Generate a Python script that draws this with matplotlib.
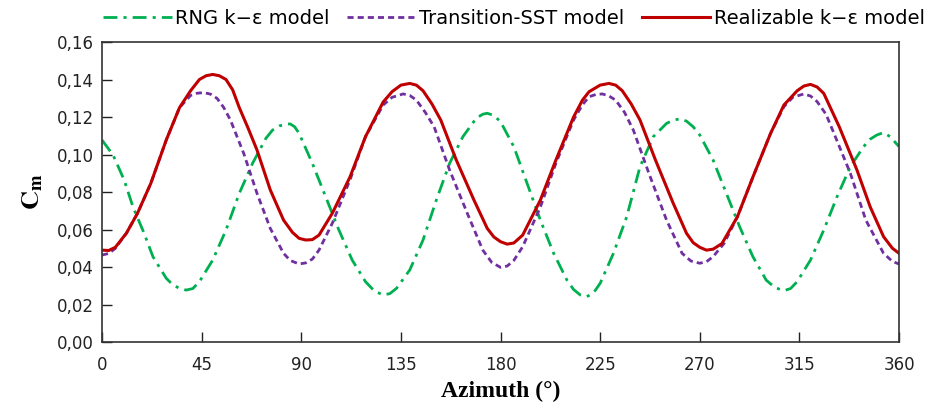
import numpy as np
import matplotlib
matplotlib.use("Agg")
import matplotlib.pyplot as plt

# moment coefficient over one revolution, (azimuth deg, Cm) for each model
rng_points = [(0, 0.1077), (5, 0.0997), (10, 0.0864), (14, 0.072), (19, 0.058), (23, 0.0455),
              (29, 0.034), (32, 0.0305), (35, 0.0286), (38, 0.0277), (41, 0.0285), (44, 0.0322),
              (50, 0.0437), (56, 0.0597), (62, 0.0793), (68, 0.0953), (74, 0.1086), (77, 0.1130),
              (80, 0.1152), (83, 0.1162), (85, 0.1163), (87, 0.1148), (89, 0.1113), (95, 0.0953),
              (101, 0.0775), (107, 0.0597), (113, 0.0437), (119, 0.0322), (123, 0.0272), (127, 0.0251),
              (130, 0.0258), (133, 0.0286), (139, 0.0384), (145, 0.0544), (151, 0.0757), (157, 0.0953),
              (163, 0.1095), (169, 0.1193), (172, 0.1215), (174, 0.122), (177, 0.1208), (180, 0.1175),
              (186, 0.1042), (192, 0.0846), (198, 0.065), (204, 0.0473), (210, 0.033), (213, 0.028),
              (216, 0.0251), (219, 0.0242), (222, 0.0262), (225, 0.0313), (231, 0.0473), (237, 0.0668),
              (243, 0.0935), (249, 0.1095), (255, 0.1166), (258, 0.1183), (261, 0.119), (264, 0.1178),
              (267, 0.1148), (270, 0.1104), (276, 0.0971), (282, 0.0793), (288, 0.0615), (294, 0.0455),
              (300, 0.033), (304, 0.029), (308, 0.0274), (311, 0.0285), (314, 0.0322), (320, 0.0437),
              (326, 0.0597), (332, 0.0775), (338, 0.0935), (344, 0.1042), (347, 0.1082), (350, 0.1104),
              (353, 0.1117), (356, 0.1095), (360, 0.1042)]

sst_points = [(0, 0.0464), (3, 0.0472), (6, 0.0499), (11, 0.058), (16, 0.0686), (22, 0.0845),
              (29, 0.1077), (35, 0.125), (40, 0.1315), (43, 0.1327), (46, 0.133), (49, 0.1322),
              (52, 0.1299), (55, 0.125), (58, 0.1184), (64, 0.1006), (70, 0.0793), (76, 0.0606),
              (82, 0.0473), (85, 0.0435), (89, 0.0416), (92, 0.0422), (95, 0.0442), (98, 0.049),
              (104, 0.0633), (112, 0.0864), (119, 0.1095), (127, 0.1264), (131, 0.1305), (136, 0.1323),
              (139, 0.1315), (142, 0.129), (146, 0.1225), (150, 0.1148), (157, 0.0917), (165, 0.0686),
              (172, 0.049), (176, 0.0425), (180, 0.0398), (183, 0.0405), (186, 0.0435), (190, 0.0508),
              (198, 0.072), (205, 0.0953), (213, 0.1184), (217, 0.1265), (220, 0.1308), (223, 0.1320),
              (226, 0.1323), (229, 0.1312), (232, 0.129), (236, 0.1225), (240, 0.113), (247, 0.090),
              (255, 0.065), (262, 0.0473), (266, 0.0432), (270, 0.042), (273, 0.0428), (276, 0.0455),
              (281, 0.0526), (287, 0.0668), (294, 0.088), (302, 0.1113), (308, 0.1255), (312, 0.1305),
              (317, 0.1323), (320, 0.1312), (323, 0.1282), (327, 0.1215), (330, 0.113), (338, 0.090),
              (345, 0.065), (353, 0.0473), (357, 0.043), (360, 0.0416)]

rke_points = [(0, 0.049), (3, 0.0488), (6, 0.0505), (11, 0.058), (16, 0.0686), (22, 0.0845),
              (29, 0.1077), (35, 0.125), (40, 0.134), (44, 0.140), (47, 0.1420), (50, 0.1427),
              (53, 0.1420), (56, 0.140), (59, 0.1345), (62, 0.125), (66, 0.114), (70, 0.1024),
              (76, 0.0811), (82, 0.065), (86, 0.0585), (89, 0.0553), (92, 0.0544), (95, 0.0546),
              (98, 0.057), (104, 0.0686), (112, 0.088), (119, 0.1095), (127, 0.128), (131, 0.1335),
              (135, 0.1370), (139, 0.1379), (142, 0.1370), (145, 0.134), (149, 0.127), (153, 0.1184),
              (160, 0.0971), (168, 0.0757), (174, 0.0606), (177, 0.056), (180, 0.0535), (183, 0.0522),
              (186, 0.0528), (190, 0.057), (198, 0.0757), (205, 0.097), (213, 0.120), (217, 0.129),
              (220, 0.1335), (225, 0.1370), (229, 0.1379), (232, 0.1370), (235, 0.134), (239, 0.127),
              (243, 0.1184), (250, 0.097), (258, 0.074), (264, 0.058), (267, 0.053), (270, 0.0505),
              (273, 0.049), (276, 0.0495), (280, 0.0525), (287, 0.0668), (294, 0.088), (302, 0.1113),
              (308, 0.1264), (314, 0.134), (317, 0.1365), (320, 0.1374), (323, 0.1360), (326, 0.1326),
              (333, 0.1148), (341, 0.0917), (347, 0.072), (353, 0.0562), (357, 0.050), (360, 0.0473)]

x_ticks = [0, 45, 90, 135, 180, 225, 270, 315, 360]
y_ticks = [0.00, 0.02, 0.04, 0.06, 0.08, 0.10, 0.12, 0.14, 0.16]
y_tick_labels = ["0,00", "0,02", "0,04", "0,06", "0,08", "0,10", "0,12", "0,14", "0,16"]

plt.rcParams['font.family'] = ['DejaVu Sans']
plt.rcParams['mathtext.fontset'] = 'stix'

fig = plt.figure(figsize=(9.3, 4.13), dpi=100)
ax = fig.add_axes([0.1097, 0.1719, 0.857, 0.7264])

az, cm = zip(*rng_points)
ax.plot(az, cm, color='#00b050', lw=2.0, dash_capstyle='butt',
        linestyle=(0, (5, 2.2, 1.1, 2.2)), label='RNG k\u2212\u03b5 model')
az, cm = zip(*sst_points)
ax.plot(az, cm, color='#7030a0', lw=2.0, dash_capstyle='butt',
        linestyle=(0, (2.2, 1.45)), label='Transition-SST model')
az, cm = zip(*rke_points)
ax.plot(az, cm, color='#c00000', lw=2.2,
        label='Realizable k\u2212\u03b5 model')

ax.set_xlim(0, 360)
ax.set_ylim(0, 0.16)
ax.set_xticks(x_ticks)
ax.set_yticks(y_ticks)
ax.set_yticklabels(y_tick_labels)
ax.tick_params(direction='in', length=7, width=1, labelsize=12, colors='#222222')
ax.tick_params(axis='x', pad=10)
ax.tick_params(axis='y', pad=6)
for s in ax.spines.values():
    s.set_linewidth(1.2)
    s.set_color('#333333')

ax.set_xlabel('Azimuth (\u00b0)', family='Liberation Serif', fontweight='bold',
              fontsize=17, labelpad=5)
ax.set_ylabel(r'$\mathbf{C_m}$', fontsize=19, labelpad=8)

fig.legend(loc='upper center', bbox_to_anchor=(0.553, 1.02), ncol=3, frameon=False,
           fontsize=14, handlelength=3.5, handletextpad=0.2, columnspacing=0.9)

fig.savefig('out.png', dpi=100)
